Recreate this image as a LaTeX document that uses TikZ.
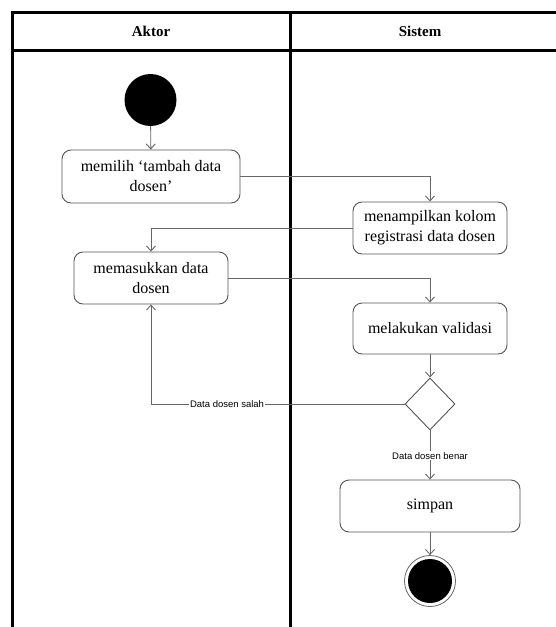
\documentclass[tikz,border=0pt]{standalone}
\usepackage{fontspec}
\setmainfont{Liberation Serif}
\newfontfamily\lblfont{Liberation Sans}
\usetikzlibrary{arrows.meta,shapes.geometric}
\definecolor{boxgray}{HTML}{555555}
\definecolor{linegray}{HTML}{666666}
\tikzset{
  lane/.style={line width=3pt, black},
  act/.style={draw=boxgray, line width=0.9pt, rounded corners=9pt, align=center,
    font=\fontsize{16}{20}\selectfont, inner sep=0pt},
  flow/.style={draw=linegray, line width=0.9pt, -{Straight Barb[length=5pt,width=9pt]}},
  lbl/.style={font=\lblfont\fontsize{9.5}{11}\selectfont, fill=white, inner sep=1pt},
  hdr/.style={font=\bfseries\fontsize{15}{18}\selectfont},
}
\begin{document}
\begin{tikzpicture}[x=1pt,y=-1pt]
\useasboundingbox (0,0) rectangle (555,627);
% swimlanes
\draw[lane] (12,627) -- (12,12) -- (560,12);
\draw[lane] (12,50) -- (560,50);
\draw[lane] (290,12) -- (290,627);
\node[hdr] (hA) at (151,31) {Aktor};
\node[hdr] (hS) at (420,31) {Sistem};
% nodes
\node[circle, fill=black, minimum size=52pt, inner sep=0pt] (start) at (150.5,100) {};
\node[act, minimum width=178pt, minimum height=53pt] (n1) at (151,176.5) {memilih `tambah data\\dosen'};
\node[act, minimum width=154pt, minimum height=52pt] (n2) at (430,228) {menampilkan kolom\\registrasi data dosen};
\node[act, minimum width=154pt, minimum height=52pt] (n3) at (151,278) {memasukkan data\\dosen};
\node[act, minimum width=154pt, minimum height=51pt] (n4) at (430,328.5) {melakukan validasi};
\node[diamond, draw=boxgray, line width=0.9pt, minimum width=50pt, minimum height=52pt, inner sep=0pt] (d) at (430,404) {};
\node[act, minimum width=180pt, minimum height=52pt] (n5) at (430,506) {simpan};
\node[circle, draw=linegray, line width=0.8pt, minimum size=51pt, inner sep=0pt] (end) at (430,581) {};
\node[circle, fill=black, minimum size=44pt, inner sep=0pt] (endc) at (430,581) {};
% connectors
\draw[flow] (start) -- (n1);
\draw[flow] (n1.east) -| (n2.north);
\draw[flow] (n2.west) -| (n3.north);
\draw[flow] (n3.east) -| (n4.north);
\draw[flow] (n4) -- (d);
\draw[flow] (d.west) -| node[lbl, pos=0.35] {Data dosen salah} (n3.south);
\draw[flow] (d.south) -- node[lbl, pos=0.52] {Data dosen benar} (n5.north);
\draw[flow] (n5) -- (end);
\end{tikzpicture}
\end{document}
